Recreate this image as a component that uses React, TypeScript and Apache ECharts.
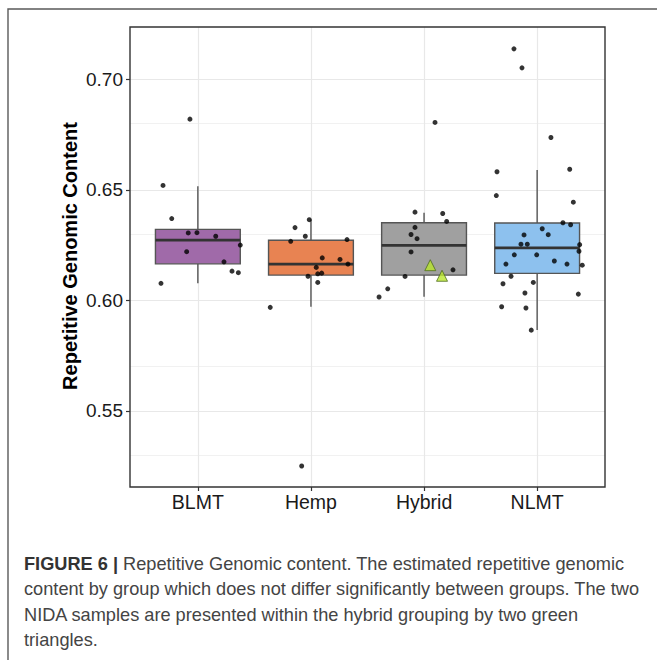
import React, { useEffect, useRef } from "react";
import * as echarts from "echarts";

// ---------- data ----------
const categories = ["BLMT", "Hemp", "Hybrid", "NLMT"];

// box statistics: lower whisker, Q1, median, Q3, upper whisker
const boxLow = [0.6077, 0.5971, 0.6016, 0.5866];
const boxQ1 = [0.6165, 0.6114, 0.6114, 0.6122];
const boxMedian = [0.6272, 0.6164, 0.6249, 0.6237];
const boxQ3 = [0.6321, 0.6272, 0.6351, 0.635];
const boxHigh = [0.6516, 0.6366, 0.6396, 0.659];

// jittered sample points (x in category units, 1 = BLMT ... 4 = NLMT)
const blmtX = [0.93, 0.692, 0.769, 0.915, 0.992, 1.158, 1.375, 0.901, 1.231, 1.302, 1.358, 0.674];
const blmtY = [0.682, 0.652, 0.637, 0.6305, 0.6306, 0.629, 0.625, 0.622, 0.6174, 0.6132, 0.6125, 0.6077];

const hempX = [1.985, 1.859, 1.95, 1.821, 2.319, 2.1, 2.257, 2.327, 2.047, 2.095, 2.06, 1.974, 2.06, 1.64, 1.918];
const hempY = [0.6365, 0.6329, 0.629, 0.6267, 0.6275, 0.6192, 0.6185, 0.6164, 0.6149, 0.6123, 0.612, 0.6109, 0.6081, 0.5968, 0.525];

const hybridX = [2.92, 3.165, 3.2, 2.92, 2.885, 2.938, 2.885, 3.256, 2.832, 2.679, 2.602, 3.097];
const hybridY = [0.6399, 0.6393, 0.6357, 0.633, 0.6298, 0.6279, 0.6219, 0.6138, 0.6108, 0.6052, 0.6015, 0.6805];

const nlmtX = [3.795, 3.866, 4.122, 3.645, 4.288, 3.639, 4.32, 4.228, 4.296, 4.045, 3.884, 4.098, 3.857, 3.913, 4.376,
  4.37, 3.798, 3.996, 4.152, 3.724, 4.264, 4.399, 3.769, 3.698, 3.966, 3.892, 4.364, 3.686, 3.901, 3.948];
const nlmtY = [0.7138, 0.7052, 0.6737, 0.6582, 0.6593, 0.6474, 0.6444, 0.6351, 0.6342, 0.6324, 0.6296, 0.6297, 0.6254, 0.6254, 0.6252,
  0.6222, 0.6206, 0.6206, 0.6178, 0.6164, 0.6164, 0.6159, 0.6109, 0.6075, 0.6081, 0.6033, 0.6028, 0.5971, 0.5965, 0.5865];

// the two NIDA samples (green triangles) within Hybrid
const nidaX = [3.055, 3.159];
const nidaY = [0.6159, 0.6111];

const yTicks = [0.55, 0.6, 0.65, 0.7];
const yMinorTicks = [0.525, 0.575, 0.625, 0.675];
const xTicks = [1, 2, 3, 4];

const yTitle = "Repetitive Genomic Content";
const captionLead = "FIGURE 6 |";
const captionLines = [
  " Repetitive Genomic content. The estimated repetitive genomic",
  "content by group which does not differ significantly between groups. The two",
  "NIDA samples are presented within the hybrid grouping by two green",
  "triangles.",
];

// ---------- styles ----------
const FONT = "'Liberation Sans', Arial, Helvetica, sans-serif";
const boxColors = ["#a06aa9", "#e88352", "#a0a0a0", "#8dc1ee"];
const BOX_WIDTH = 0.75;

const zip = (xs: number[], ys: number[]) => xs.map((x, i) => [x, ys[i]]);

export default function App() {
  const ref = useRef<HTMLDivElement>(null);

  useEffect(() => {
    if (!ref.current) return;
    const chart = echarts.init(ref.current, null, { renderer: "svg" });

    const boxData = categories.map((_, i) => [i + 1, boxLow[i], boxQ1[i], boxMedian[i], boxQ3[i], boxHigh[i]]);
    const allPoints = [
      ...zip(blmtX, blmtY),
      ...zip(hempX, hempY),
      ...zip(hybridX, hybridY),
      ...zip(nlmtX, nlmtY),
    ];

    const gridLines = [
      ...yMinorTicks.map((v) => ({ yAxis: v, lineStyle: { color: "#ededed", width: 0.8, type: "solid" } })),
      ...yTicks.map((v) => ({ yAxis: v, lineStyle: { color: "#e8e8e8", width: 1.2, type: "solid" } })),
      ...xTicks.map((v) => ({ xAxis: v, lineStyle: { color: "#e8e8e8", width: 1.2, type: "solid" } })),
    ];

    const option: any = {
      animation: false,
      backgroundColor: "#ffffff",
      grid: {
        left: 130,
        top: 27,
        right: 52,
        bottom: 173,
        show: true,
        borderColor: "#333333",
        borderWidth: 1.4,
        backgroundColor: "transparent",
        z: 10,
      },
      xAxis: {
        type: "value",
        min: 0.4,
        max: 4.6,
        splitLine: { show: false },
        axisLine: { show: false },
        axisTick: { show: true, length: 4, lineStyle: { color: "#333", width: 1.2 }, customValues: xTicks },
        axisLabel: {
          customValues: xTicks,
          formatter: (v: number) => categories[Math.round(v) - 1] ?? "",
          fontFamily: FONT,
          fontSize: 19.5,
          color: "#1a1a1a",
          margin: 5,
        },
      },
      yAxis: {
        type: "value",
        min: 0.5155,
        max: 0.7237,
        splitLine: { show: false },
        axisLine: { show: false },
        axisTick: { show: true, length: 4, lineStyle: { color: "#333", width: 1.2 }, customValues: yTicks },
        axisLabel: {
          customValues: yTicks,
          formatter: (v: number) => v.toFixed(2),
          fontFamily: FONT,
          fontSize: 19,
          color: "#1a1a1a",
          margin: 7,
        },
      },
      series: [
        {
          type: "scatter",
          name: "grid",
          data: [],
          z: 0,
          silent: true,
          markLine: {
            silent: true,
            symbol: "none",
            z: 0,
            label: { show: false },
            emphasis: { disabled: true },
            data: gridLines,
          },
        },
        {
          type: "custom",
          name: "boxes",
          z: 2,
          silent: true,
          data: boxData,
          encode: { x: 0, y: [1, 2, 3, 4, 5] },
          renderItem: (params: any, api: any) => {
            const x = api.value(0);
            const lo = api.value(1);
            const q1 = api.value(2);
            const med = api.value(3);
            const q3 = api.value(4);
            const hi = api.value(5);
            const half = BOX_WIDTH / 2;
            const tl = api.coord([x - half, q3]);
            const br = api.coord([x + half, q1]);
            const pHi = api.coord([x, hi]);
            const pLo = api.coord([x, lo]);
            const mL = api.coord([x - half, med]);
            const mR = api.coord([x + half, med]);
            const stroke = "#555555";
            return {
              type: "group",
              children: [
                { type: "line", shape: { x1: pHi[0], y1: pHi[1], x2: pHi[0], y2: tl[1] }, style: { stroke, lineWidth: 1.4 } },
                { type: "line", shape: { x1: pLo[0], y1: br[1], x2: pLo[0], y2: pLo[1] }, style: { stroke, lineWidth: 1.4 } },
                {
                  type: "rect",
                  shape: { x: tl[0], y: tl[1], width: br[0] - tl[0], height: br[1] - tl[1] },
                  style: { fill: boxColors[params.dataIndex], stroke, lineWidth: 1.4 },
                },
                { type: "line", shape: { x1: mL[0], y1: mL[1], x2: mR[0], y2: mR[1] }, style: { stroke: "#333333", lineWidth: 2.8 } },
              ],
            };
          },
        },
        {
          type: "scatter",
          name: "samples",
          z: 3,
          silent: true,
          symbol: "circle",
          symbolSize: 5,
          itemStyle: { color: "#000000" },
          data: allPoints,
        },
        {
          type: "scatter",
          name: "NIDA",
          z: 4,
          silent: true,
          symbol: "triangle",
          symbolSize: 11,
          itemStyle: { color: "#b9e62c", borderColor: "#4d6b1f", borderWidth: 1 },
          data: zip(nidaX, nidaY),
        },
      ],
      graphic: [
        {
          type: "rect",
          silent: true,
          shape: { x: 8, y: 9, width: 700, height: 700 },
          style: { fill: "none", stroke: "#5a5a5a", lineWidth: 1.4 },
          z: 0,
        },
        {
          type: "text",
          silent: true,
          x: 70,
          y: 256,
          rotation: Math.PI / 2,
          style: {
            text: yTitle,
            fontFamily: FONT,
            fontSize: 20,
            fontWeight: "bold",
            fill: "#000000",
            align: "center",
            verticalAlign: "middle",
          },
        },
        {
          type: "text",
          silent: true,
          x: 24,
          y: 551,
          style: {
            text: "{b|" + captionLead + "}" + captionLines.join("\n"),
            fontFamily: FONT,
            fontSize: 18.2,
            lineHeight: 25.5,
            fill: "#444444",
            align: "left",
            verticalAlign: "top",
            rich: {
              b: { fontFamily: FONT, fontSize: 18.2, fontWeight: "bold", fill: "#333333", lineHeight: 25.5 },
            },
          },
        },
      ],
    };

    chart.setOption(option);
    return () => chart.dispose();
  }, []);

  return (
    <div
      ref={ref}
      style={{ position: "fixed", left: 0, top: 0, width: 657, height: 660, background: "#fff" }}
    />
  );
}
